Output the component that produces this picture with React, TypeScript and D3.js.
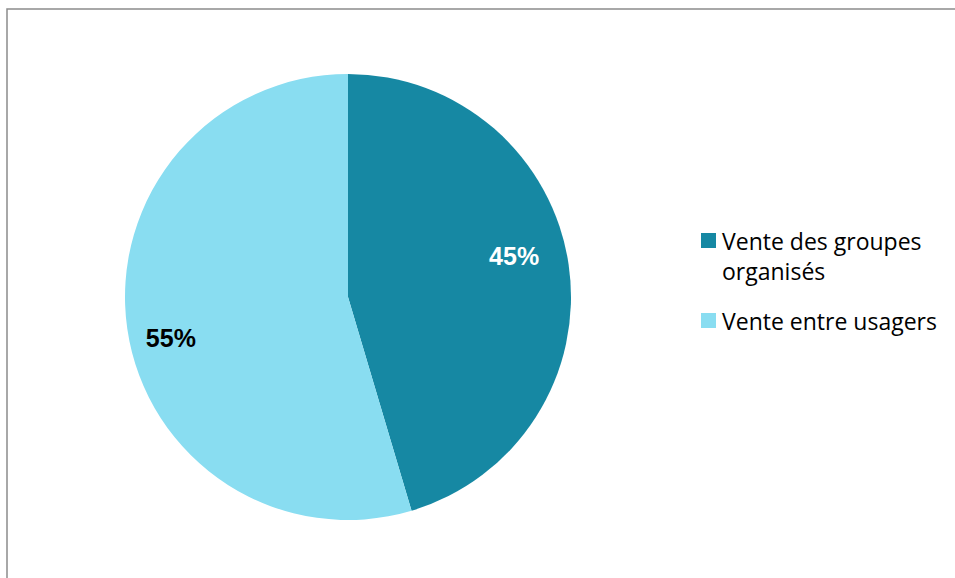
import React from "react";
import * as d3 from "d3";

const categories = ["Vente des groupes organisés", "Vente entre usagers"];
const values = [45.4, 54.6];
const labels = ["45%", "55%"];
const colors = ["#1688A3", "#89DDF1"];
const labelColors = ["#ffffff", "#000000"];
const legendLines = [["Vente des groupes", "organisés"], ["Vente entre usagers"]];

export default function App() {
  const W = 955, H = 578;
  const cx = 348, cy = 297, r = 223;
  const pie = d3.pie<number>().sort(null).value((d) => d)(values);
  const arc = d3.arc<d3.PieArcDatum<number>>().innerRadius(0).outerRadius(r);
  const labelArc = d3.arc<d3.PieArcDatum<number>>().innerRadius(r * 0.78).outerRadius(r * 0.78);
  const labelShift = [[-6, -16], [-5, 16]];
  return (
    <svg width={W} height={H} style={{ position: "absolute", left: 0, top: 0 }}>
      <rect x={0} y={0} width={W} height={H} fill="#fff" />
      <rect x={7} y={9} width={W + 20} height={H + 20} fill="none" stroke="#8c8c8c" strokeWidth={1.5} />
      <g transform={`translate(${cx},${cy})`}>
        {pie.map((p, i) => (
          <path key={i} d={arc(p) || ""} fill={colors[i]} />
        ))}
        {pie.map((p, i) => {
          const [lx, ly] = labelArc.centroid(p);
          return (
            <text key={i} x={lx + labelShift[i][0]} y={ly + labelShift[i][1]} textAnchor="middle" dominantBaseline="central"
              fontFamily="Liberation Sans, Arial, sans-serif" fontWeight="bold" fontSize={25} fill={labelColors[i]}>
              {labels[i]}
            </text>
          );
        })}
      </g>
      {categories.map((c, i) => {
        const y0 = i === 0 ? 233 : 313;
        return (
          <g key={c}>
            <rect x={701} y={y0} width={15} height={15} fill={colors[i]} />
            {legendLines[i].map((ln, j) => (
              <text key={j} x={722} y={y0 + 17 + j * 30} fontFamily="Open Sans, sans-serif" fontSize={23} fill="#000">
                {ln}
              </text>
            ))}
          </g>
        );
      })}
    </svg>
  );
}
